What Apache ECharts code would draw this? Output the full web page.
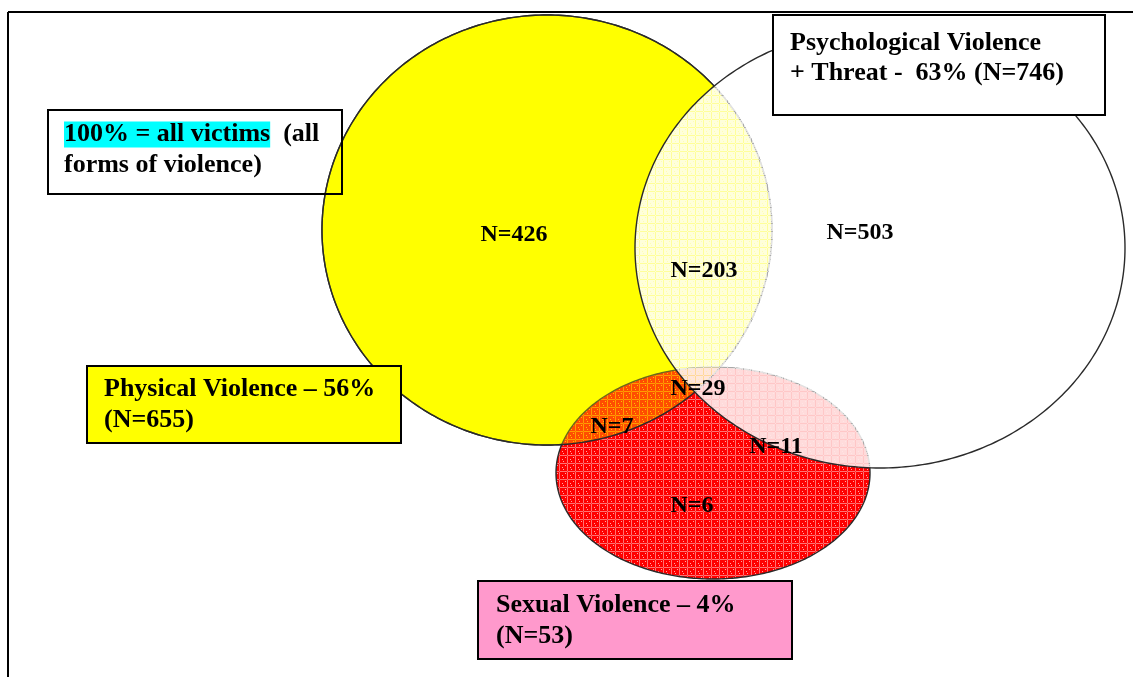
<!DOCTYPE html>
<html>
<head>
<meta charset="utf-8">
<script src="https://cdn.jsdelivr.net/npm/echarts@6/dist/echarts.min.js"></script>
<style>
html,body{margin:0;padding:0;background:#fff;}
#chart{width:1133px;height:677px;}
</style>
</head>
<body>
<div id="chart"></div>
<script>
// ---- data ----
const setNames = ['Physical Violence', 'Psychological Violence', 'Sexual Violence'];
const setPercents = [56, 63, 4];
const setTotals = [655, 746, 53];
const regionNames = ['Physical only', 'Psychological only', 'Physical + Psychological', 'All three', 'Physical + Sexual', 'Psychological + Sexual', 'Sexual only'];
const regionCounts = [426, 503, 203, 29, 7, 11, 6];
const noteText = ['100% = all victims', '(all', 'forms of violence)'];

// ---- layout (pixel-like layout space on hidden axes) ----
const ellipseLayout = [
  { cx: 547, cy: 230, rx: 225, ry: 215 },  // physical
  { cx: 880, cy: 248, rx: 245, ry: 220 },  // psychological
  { cx: 713, cy: 473, rx: 157, ry: 106 }   // sexual
];
const regionLabelPos = [[514, 235], [860, 233], [704, 271], [698, 389], [612, 427], [776, 447], [692, 506]];
const boxLayout = {
  note:  { x: 48,  y: 110, w: 294, h: 84, tx: 64,  ty: 119, lh: 31 },
  phys:  { x: 87,  y: 366, w: 314, h: 77, tx: 104, ty: 374, lh: 31 },
  psych: { x: 773, y: 15,  w: 332, h: 100, tx: 790, ty: 28, lh: 30 },
  sex:   { x: 478, y: 581, w: 314, h: 78, tx: 496, ty: 590, lh: 31 }
};

function makePattern(base, lineCol, dotCol) {
  const c = document.createElement('canvas');
  c.width = 8; c.height = 8;
  const g = c.getContext('2d');
  g.clearRect(0, 0, 8, 8);
  g.fillStyle = base; g.fillRect(0, 0, 8, 8);
  g.clearRect(7, 0, 1, 8); g.clearRect(0, 7, 8, 1);
  g.fillStyle = lineCol; g.fillRect(7, 0, 1, 8); g.fillRect(0, 7, 8, 1);
  g.clearRect(2, 3, 1, 1); g.clearRect(5, 1, 1, 1); g.clearRect(3, 5, 1, 1);
  g.fillStyle = dotCol; g.fillRect(2, 3, 1, 1); g.fillRect(5, 1, 1, 1); g.fillRect(3, 5, 1, 1);
  return c;
}
const redPattern = makePattern('rgba(255,0,0,1)', 'rgba(255,0,0,0.55)', 'rgba(255,0,0,0.35)');
const whitePattern = makePattern('rgba(255,255,255,0.86)', 'rgba(255,255,255,0.6)', 'rgba(255,255,255,0.7)');

// drawing layers: which set outline, fill, stacking order
const layers = [
  { set: 0, fill: '#FFFF00', z2: 1 },
  { set: 2, fill: { image: redPattern, repeat: 'repeat' }, z2: 2 },
  { set: 0, fill: 'rgba(255,255,0,0.3)', z2: 3 },
  { set: 1, fill: { image: whitePattern, repeat: 'repeat' }, z2: 4 }
];

const ellipseData = layers.map((l, i) => {
  const e = ellipseLayout[l.set];
  return [e.cx, e.cy, e.rx, e.ry, i];
});
const labelData = regionCounts.map((n, i) => [regionLabelPos[i][0], regionLabelPos[i][1], i]);

const FONT = '"Liberation Serif", "Times New Roman", serif';

function boxTexts() {
  return {
    note: '{hl|' + noteText[0] + '}  ' + noteText[1] + '\n' + noteText[2],
    phys: setNames[0] + ' \u2013 ' + setPercents[0] + '%\n(N=' + setTotals[0] + ')',
    psych: setNames[1] + '\n+ Threat -  ' + setPercents[1] + '% (N=' + setTotals[1] + ')',
    sex: setNames[2] + ' \u2013 ' + setPercents[2] + '%\n(N=' + setTotals[2] + ')'
  };
}
const boxFills = { note: null, phys: '#FFFF00', psych: '#FFFFFF', sex: '#FF99CC' };
const boxKeys = ['note', 'phys', 'psych', 'sex'];
const boxData = boxKeys.map((k, i) => [boxLayout[k].x, boxLayout[k].y, i]);

const chart = echarts.init(document.getElementById('chart'), null, { renderer: 'canvas' });
chart.setOption({
  animation: false,
  backgroundColor: '#ffffff',
  grid: { left: 0, right: 0, top: 0, bottom: 0 },
  xAxis: { type: 'value', min: 0, max: 1133, show: false },
  yAxis: { type: 'value', min: 0, max: 677, inverse: true, show: false },
  graphic: [
    { type: 'line', shape: { x1: 8, y1: 12, x2: 1133, y2: 12 }, style: { stroke: '#000', lineWidth: 2 }, z: 100 },
    { type: 'line', shape: { x1: 8, y1: 12, x2: 8, y2: 677 }, style: { stroke: '#000', lineWidth: 2 }, z: 100 }
  ],
  series: [
    {
      type: 'custom',
      coordinateSystem: 'cartesian2d',
      data: ellipseData,
      z: 2,
      renderItem: function (params, api) {
        const c = api.coord([api.value(0), api.value(1)]);
        const s = api.size([api.value(2), api.value(3)]);
        const layer = layers[api.value(4)];
        const pts = [];
        const N = 360;
        for (let k = 0; k < N; k++) {
          const t = k / N * Math.PI * 2;
          pts.push([c[0] + s[0] * Math.cos(t), c[1] + s[1] * Math.sin(t)]);
        }
        return {
          type: 'polygon',
          z2: layer.z2,
          shape: { points: pts },
          style: { fill: layer.fill, stroke: '#2a2a2a', lineWidth: 1.4 }
        };
      }
    },
    {
      type: 'custom',
      coordinateSystem: 'cartesian2d',
      data: labelData,
      z: 5,
      renderItem: function (params, api) {
        const c = api.coord([api.value(0), api.value(1)]);
        const i = api.value(2);
        return {
          type: 'text',
          x: c[0], y: c[1],
          style: {
            text: 'N=' + regionCounts[i],
            font: 'bold 24px ' + FONT,
            fill: '#000',
            align: 'center',
            verticalAlign: 'middle'
          }
        };
      }
    },
    {
      type: 'custom',
      coordinateSystem: 'cartesian2d',
      data: boxData,
      z: 10,
      renderItem: function (params, api) {
        const k = boxKeys[api.value(2)];
        const b = boxLayout[k];
        const p = api.coord([b.x, b.y]);
        const sz = api.size([b.w, b.h]);
        const tp = api.coord([b.tx, b.ty]);
        const texts = boxTexts();
        return {
          type: 'group',
          children: [
            {
              type: 'rect',
              shape: { x: p[0], y: p[1], width: sz[0], height: sz[1] },
              style: { fill: boxFills[k] || 'rgba(0,0,0,0)', stroke: '#000', lineWidth: 2 }
            },
            {
              type: 'text',
              x: tp[0], y: tp[1],
              style: {
                text: texts[k],
                font: 'bold 26px ' + FONT,
                fill: '#000',
                align: 'left',
                verticalAlign: 'top',
                lineHeight: b.lh,
                rich: {
                  hl: { backgroundColor: '#00FFFF', font: 'bold 26px ' + FONT, lineHeight: b.lh, fill: '#000' }
                }
              }
            }
          ]
        };
      }
    }
  ]
});
</script>
</body>
</html>
